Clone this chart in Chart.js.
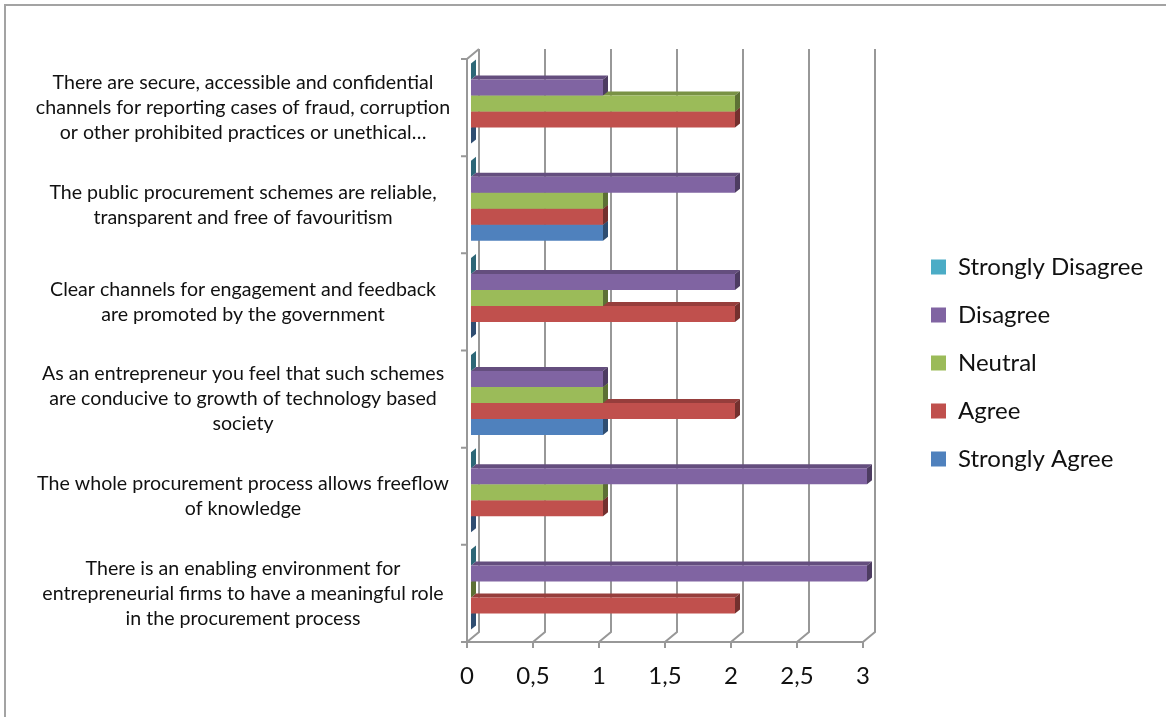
<!DOCTYPE html>
<html>
<head>
<meta charset="utf-8">
<script src="https://cdn.jsdelivr.net/npm/chart.js@4.4.1/dist/chart.umd.min.js"></script>
<style>
  html, body { margin: 0; padding: 0; background: #fff; overflow: hidden; }
  #wrap { position: relative; width: 1166px; height: 717px; }
  #frame { position: absolute; left: 4px; top: 4px; width: 1220px; height: 780px;
           border: 2px solid #a3a3a3; box-sizing: border-box; pointer-events: none; }
  canvas { display: block; }
</style>
</head>
<body>
<div id="wrap">
  <canvas id="chart" width="1166" height="717"></canvas>
  <div id="frame"></div>
</div>
<script>
// Survey statements (one per row, top to bottom), wrapped as drawn
const categories = [
  ["There are secure, accessible and confidential", "channels for reporting cases of fraud, corruption", "or other prohibited practices or unethical…"],
  ["The public procurement schemes are reliable,", "transparent and free of favouritism"],
  ["Clear channels for engagement and feedback", "are promoted by the government"],
  ["As an entrepreneur you feel that such schemes", "are conducive to growth of technology based", "society"],
  ["The whole procurement process allows freeflow", "of knowledge"],
  ["There is an enabling environment for", "entrepreneurial firms to have a meaningful role", "in the procurement process"]
];

// Response counts per statement
const stronglyDisagree = [0, 0, 0, 0, 0, 0];
const disagree         = [1, 2, 2, 1, 3, 3];
const neutral          = [2, 1, 1, 1, 1, 0];
const agree            = [2, 1, 2, 2, 1, 2];
const stronglyAgree    = [0, 1, 0, 1, 0, 0];

const seriesNames  = ["Strongly Disagree", "Disagree", "Neutral", "Agree", "Strongly Agree"];
const seriesColors = ["#4BACC6", "#8064A2", "#9BBB59", "#C0504D", "#4F81BD"];
const tickLabels   = ["0", "0,5", "1", "1,5", "2", "2,5", "3"];

const FONT = "Lato";
const labelFont  = { family: FONT, size: 19.6, lineHeight: "25px" };
const legendFont = { family: FONT, size: 24 };
const tickFont   = { family: FONT, size: 24 };

// measure text so the wrapped statements centre on a fixed column
const mctx = document.createElement("canvas").getContext("2d");
mctx.font = `normal ${labelFont.size}px ${FONT}`;
let widestLabel = 0;
categories.forEach(lines => lines.forEach(l => { widestLabel = Math.max(widestLabel, mctx.measureText(l).width); }));
mctx.font = `normal ${legendFont.size}px ${FONT}`;
let widestLegend = 0;
seriesNames.forEach(n => { widestLegend = Math.max(widestLegend, mctx.measureText(n).width); });

const W = 1166, H = 717;
const PLOT_LEFT = 471, PLOT_RIGHT = 867, PLOT_TOP = 55, PLOT_BOTTOM = 638;
const LABEL_CENTER = 243;
const LEGEND_LEFT = 907;
const LEGEND_PAD = 24;
const BOX = 15;
const PAD_TOP = 9;
const legendWidth = LEGEND_PAD + BOX + legendFont.size / 2 + widestLegend + 10;
const padRight = Math.max(0, W - LEGEND_LEFT - legendWidth);

function shade(hex, f) {
  const n = parseInt(hex.slice(1), 16);
  const r = Math.round(((n >> 16) & 255) * f);
  const g = Math.round(((n >> 8) & 255) * f);
  const b = Math.round((n & 255) * f);
  return `rgb(${r},${g},${b})`;
}

function noPad(s) { s.paddingTop = 0; s.paddingBottom = 0; s.paddingLeft = 0; s.paddingRight = 0; }

// 3-D frame: back wall gridlines, floor edge and left wall with category ticks
const frame3d = {
  id: "frame3d",
  beforeDatasetsDraw(chart) {
    const { ctx, chartArea } = chart;
    const xs = chart.scales.x;
    const n = categories.length;
    const band = (chartArea.bottom - chartArea.top) / n;
    const FX = -4, BX = 8;
    const frontTop = chartArea.top + 4, frontFloor = chartArea.bottom + 4;
    const backTop = frontTop - 10, backFloor = frontFloor - 10;
    ctx.save();
    ctx.strokeStyle = "#989898";
    ctx.lineWidth = 2;
    ctx.beginPath();
    xs.ticks.forEach(t => {
      const p = xs.getPixelForValue(t.value);
      ctx.moveTo(p + BX, backTop);
      ctx.lineTo(p + BX, backFloor);
      ctx.lineTo(p + FX, frontFloor);
      ctx.lineTo(p + FX, frontFloor + 6);
    });
    const x0 = xs.getPixelForValue(0);
    const x3 = xs.getPixelForValue(xs.max);
    // floor front edge
    ctx.moveTo(x0 + FX - 6, frontFloor);
    ctx.lineTo(x3 + FX, frontFloor);
    // left wall
    ctx.moveTo(x0 + FX, frontFloor);
    ctx.lineTo(x0 + FX, frontTop);
    ctx.lineTo(x0 + BX, backTop);
    for (let k = 0; k <= n; k++) {
      const y = frontTop + k * band;
      ctx.moveTo(x0 + FX - 6, y);
      ctx.lineTo(x0 + FX, y);
    }
    ctx.stroke();

    // bar depth: top and end faces, lower series first
    const DX = 5, DY = -4;
    for (let d = chart.data.datasets.length - 1; d >= 0; d--) {
      const meta = chart.getDatasetMeta(d);
      const c = seriesColors[d];
      meta.data.forEach(el => {
        const { x, y, base, height } = el.getProps(["x", "y", "base", "height"], true);
        const top = y - height / 2, bot = y + height / 2;
        const L = Math.min(x, base), R = Math.max(x, base);
        ctx.fillStyle = shade(c, 0.78);
        ctx.beginPath();
        ctx.moveTo(L, top); ctx.lineTo(R, top); ctx.lineTo(R + DX, top + DY); ctx.lineTo(L + DX, top + DY);
        ctx.closePath(); ctx.fill();
        ctx.fillStyle = shade(c, 0.6);
        ctx.beginPath();
        ctx.moveTo(R, top); ctx.lineTo(R, bot); ctx.lineTo(R + DX, bot + DY); ctx.lineTo(R + DX, top + DY);
        ctx.closePath(); ctx.fill();
      });
    }
    ctx.restore();
  }
};

const seriesData = [stronglyDisagree, disagree, neutral, agree, stronglyAgree];

new Chart(document.getElementById("chart"), {
  type: "bar",
  data: {
    labels: categories,
    datasets: seriesNames.map((name, i) => ({
      label: name,
      data: seriesData[i],
      backgroundColor: seriesColors[i],
      borderWidth: 0,
      xAxisID: "x",
      yAxisID: "y",
      categoryPercentage: 0.823,
      barPercentage: 1
    }))
  },
  options: {
    indexAxis: "y",
    responsive: false,
    devicePixelRatio: 1,
    animation: false,
    layout: { padding: { top: PAD_TOP, bottom: 0, left: 0, right: padRight } },
    plugins: {
      legend: {
        position: "right",
        align: "center",
        maxWidth: 400,
        labels: { font: legendFont, color: "#111", boxWidth: BOX, boxHeight: BOX, padding: LEGEND_PAD }
      },
      tooltip: { enabled: false }
    },
    scales: {
      x: {
        type: "linear",
        position: "bottom",
        min: 0,
        max: 3,
        grid: { display: false, drawTicks: false, tickLength: 0 },
        border: { display: false },
        ticks: {
          stepSize: 0.5,
          autoSkip: false,
          maxRotation: 0,
          font: tickFont,
          color: "#111",
          padding: 24,
          labelOffset: -4,
          callback: (v, i) => tickLabels[i]
        },
        afterFit(s) { s.height = H - PLOT_BOTTOM; noPad(s); }
      },
      y: {
        type: "category",
        position: "left",
        grid: { display: false, drawTicks: false, tickLength: 0 },
        border: { display: false },
        ticks: {
          font: labelFont,
          color: "#111",
          crossAlign: "center",
          padding: (PLOT_LEFT - LABEL_CENTER) - widestLabel / 2,
          labelOffset: 4,
          autoSkip: false
        },
        afterFit(s) { s.width = PLOT_LEFT; noPad(s); }
      },
      gapRight: {
        type: "linear",
        position: "right",
        display: true,
        grid: { display: false, drawTicks: false, tickLength: 0 },
        border: { display: false },
        ticks: { display: false },
        afterFit(s) { s.width = LEGEND_LEFT - PLOT_RIGHT; noPad(s); }
      },
      gapTop: {
        type: "linear",
        position: "top",
        display: true,
        grid: { display: false, drawTicks: false, tickLength: 0 },
        border: { display: false },
        ticks: { display: false },
        afterFit(s) { s.height = PLOT_TOP - PAD_TOP; noPad(s); }
      }
    }
  },
  plugins: [frame3d]
});
</script>
</body>
</html>
